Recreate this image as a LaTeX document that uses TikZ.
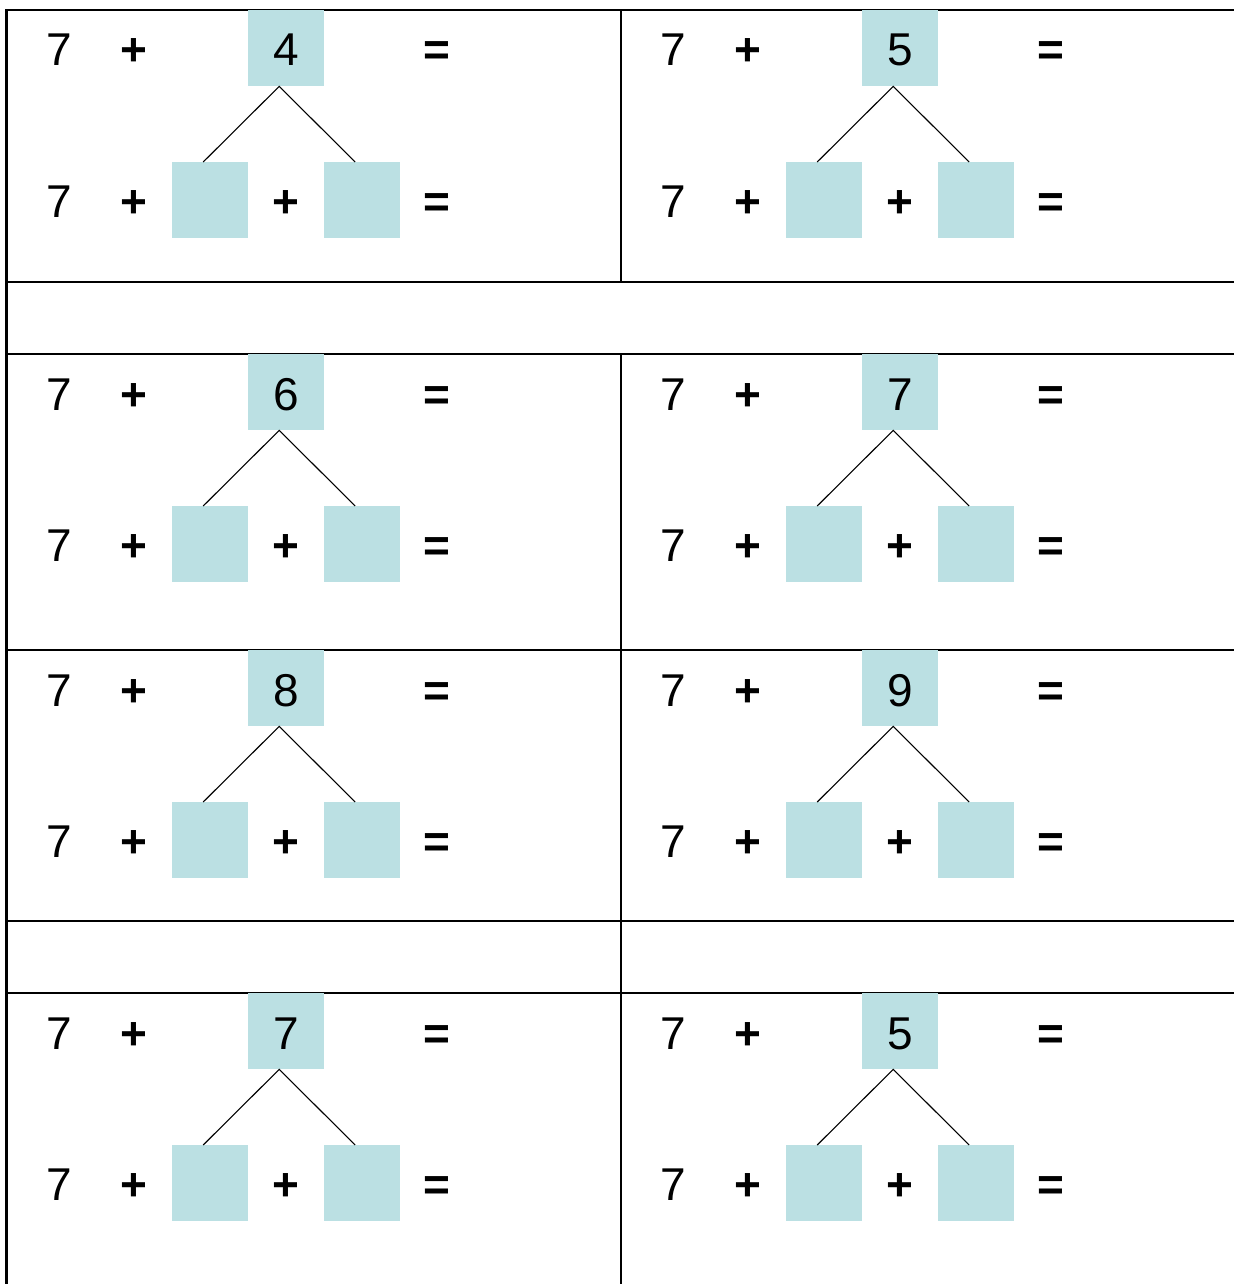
\documentclass[tikz,border=0pt]{standalone}
\usepackage{fontspec}
\setmainfont{Liberation Sans}
\usetikzlibrary{calc}
\definecolor{boxcyan}{RGB}{187,224,227}
\begin{document}
\begin{tikzpicture}[x=1pt,y=-1pt,
  grid/.style={line width=2.2pt},
  txt/.style={inner sep=0pt,anchor=base,font=\fontsize{46}{50}\selectfont},
  op/.style={txt,font=\fontsize{46}{50}\selectfont\bfseries},
  sbox/.style={fill=boxcyan,draw=none,minimum width=76pt,minimum height=76pt,inner sep=0pt,anchor=north west},
  link/.style={line width=1.1pt}]
\useasboundingbox (0,0) rectangle (1234,1284);
% grid
\draw[grid] (6.5,1284) -- (6.5,10) -- (1234,10);
\foreach \yy in {282,354,650,921,993}{\draw[grid] (6.5,\yy) -- (1234,\yy);}
\draw[grid] (621,10) -- (621,282);
\draw[grid] (621,354) -- (621,1284);
% cells
\foreach \dx/\dy/\num/\n in {0/10/4/a,614/10/5/b,0/354/6/c,614/354/7/d,0/650/8/e,614/650/9/f,0/993/7/g,614/993/5/h}{
  \begin{scope}[shift={(\dx,\dy)}]
    \node[sbox] (\n-top) at (248,0) {};
    \node[sbox] (\n-bl) at (172,152) {};
    \node[sbox] (\n-br) at (324,152) {};
    \node[txt] (\n-t7) at (59,56) {7};
    \node[op] (\n-tp) at (134,56) {+};
    \node[txt] (\n-tn) at (286,56) {\num};
    \node[op] (\n-te) at (437,56) {=};
    \node[txt] (\n-b7) at (59,207) {7};
    \node[op] (\n-bp1) at (134,207) {+};
    \node[op] (\n-bp2) at (286,207) {+};
    \node[op] (\n-be) at (437,207) {=};
    \coordinate (\n-apex) at ($(\n-top.south)+(-7,0)$);
    \coordinate (\n-lend) at ($(\n-bl.north)+(-7,0)$);
    \coordinate (\n-rend) at ($(\n-br.north)+(-7,0)$);
    \draw[link] (\n-lend) -- (\n-apex) -- (\n-rend);
  \end{scope}
}
\end{tikzpicture}
\end{document}
